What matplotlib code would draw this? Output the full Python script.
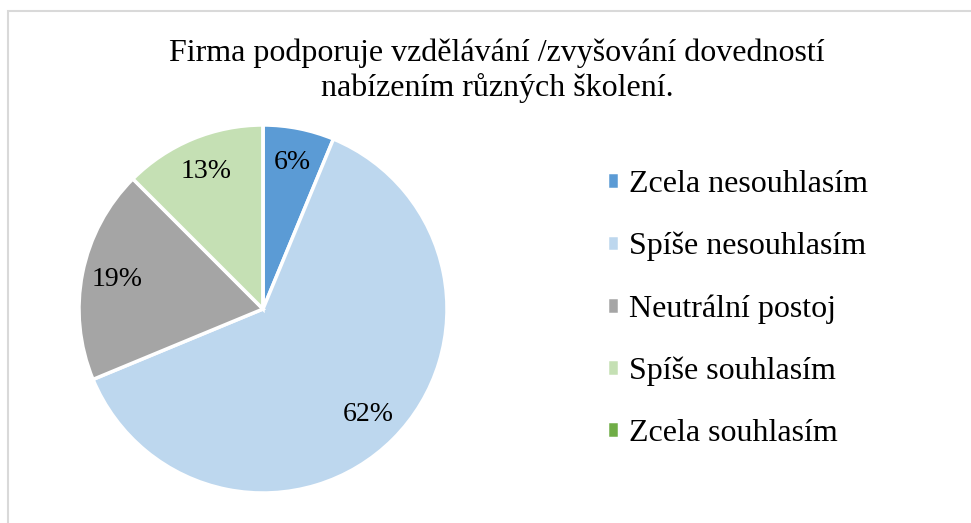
import numpy as np
import matplotlib.pyplot as plt
from matplotlib.patches import Rectangle

plt.rcParams['font.family'] = ['Liberation Serif', 'DejaVu Serif']

categories = ['Zcela nesouhlasím', 'Spíše nesouhlasím', 'Neutrální postoj',
              'Spíše souhlasím', 'Zcela souhlasím']
values = [6.25, 62.5, 18.75, 12.5, 0]
labels = ['6%', '62%', '19%', '13%', '']
colors = ['#5B9BD5', '#BDD7EE', '#A5A5A5', '#C5E0B4', '#70AD47']
title = 'Firma podporuje vzdělávání /zvyšování dovedností\nnabízením různých školení.'

fig = plt.figure(figsize=(9.71, 5.23), dpi=100)

# light frame around the chart area (cut at right and bottom)
fig.patches.append(Rectangle((8 / 971, -0.1), 1.2, 1 - 11 / 523 + 0.1,
                             transform=fig.transFigure, fill=False,
                             edgecolor='#D9D9D9', linewidth=1.5))

fig.text(0.512, 1 - 71 / 523, title, ha='center', va='center',
         fontsize=23, linespacing=1.2)

ax = fig.add_axes([79 / 971, 30 / 523, 368 / 971, 368 / 523])
wedges, _ = ax.pie(values, colors=colors, startangle=90, counterclock=False,
                   radius=1, wedgeprops=dict(edgecolor='white', linewidth=2.5))
for w, lab in zip(wedges, labels):
    if not lab:
        continue
    ang = np.deg2rad((w.theta1 + w.theta2) / 2)
    ax.text(0.81 * np.cos(ang), 0.81 * np.sin(ang), lab, ha='center',
            va='center', fontsize=20)
ax.set_xlim(-1, 1)
ax.set_ylim(-1, 1)
ax.axis('off')

fig.legend(wedges, categories, loc='center left',
           bbox_to_anchor=(607 / 971, 1 - 309 / 523), frameon=False,
           fontsize=23, handlelength=0.36, handleheight=0.42,
           handletextpad=0.32, labelspacing=1.03, borderpad=0,
           borderaxespad=0)

fig.savefig('out.png', dpi=100)
